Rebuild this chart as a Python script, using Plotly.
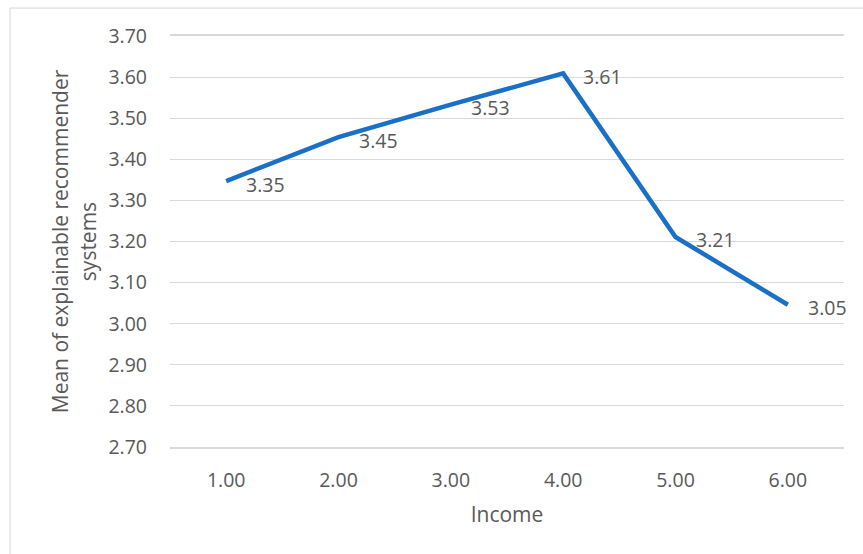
import plotly.graph_objects as go

categories = ["1.00", "2.00", "3.00", "4.00", "5.00", "6.00"]
means = [3.347, 3.454, 3.533, 3.609, 3.211, 3.046]
y_ticks = [2.70, 2.80, 2.90, 3.00, 3.10, 3.20, 3.30, 3.40, 3.50, 3.60, 3.70]

FONT = "Open Sans"
TXT = "#595959"
TICK_SIZE = 19.5
TITLE_SIZE = 21
GRID = "#D9D9D9"

fig = go.Figure()
fig.add_trace(go.Scatter(
    x=categories, y=means, mode="lines",
    line=dict(color="#1A6FC6", width=4.5),
    hoverinfo="skip", showlegend=False,
))
for i, v in enumerate(means):
    fig.add_annotation(x=i, y=v, text=f"{v:.2f}", showarrow=False,
                       xanchor="left", yanchor="middle", xshift=18, yshift=-3,
                       font=dict(family=FONT, size=TICK_SIZE, color=TXT))

fig.update_layout(
    width=863, height=554,
    margin=dict(l=170, r=19, t=36, b=107),
    paper_bgcolor="white", plot_bgcolor="white",
    font=dict(family=FONT, size=TICK_SIZE, color=TXT),
    xaxis=dict(
        type="category", range=[-0.5, 5.5], showgrid=False, zeroline=False,
        showline=True, mirror=True, linecolor=GRID, linewidth=1.5,
        ticks="", ticklabelstandoff=15,
        tickfont=dict(size=TICK_SIZE, color=TXT),
        title=dict(text="Income", font=dict(size=TITLE_SIZE, color=TXT), standoff=15),
    ),
    yaxis=dict(
        range=[2.70, 3.70], tickvals=y_ticks,
        ticktext=[f"{t:.2f}" for t in y_ticks],
        showgrid=True, gridcolor=GRID, gridwidth=1, zeroline=False,
        showline=False, ticks="", ticklabelstandoff=22,
        tickfont=dict(size=TICK_SIZE, color=TXT),
        title=dict(text="Mean of explainable recommender<br>systems",
                   font=dict(size=TITLE_SIZE, color=TXT), standoff=6),
    ),
    shapes=[dict(type="rect", xref="paper", yref="paper",
                 x0=-0.2374, x1=1.05, y0=-0.28, y1=1.068,
                 line=dict(color=GRID, width=1), fillcolor="rgba(0,0,0,0)",
                 layer="below")],
)

fig.write_html("out.html")
